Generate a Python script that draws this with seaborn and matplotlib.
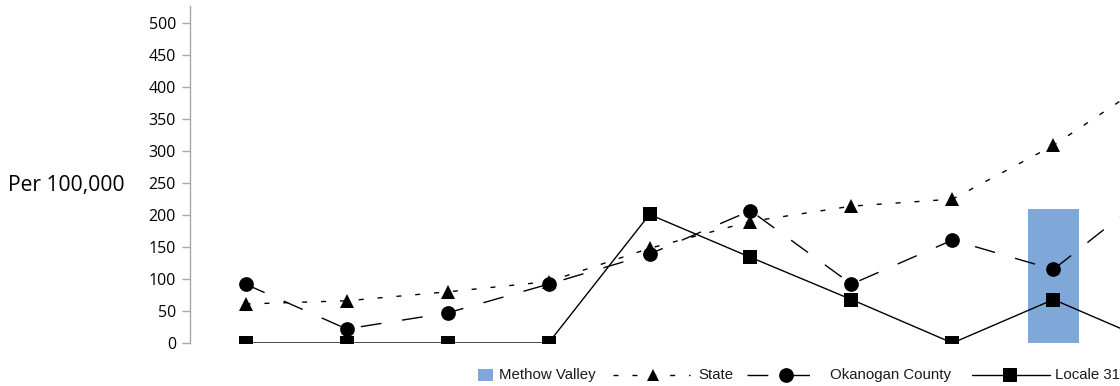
import numpy as np
import pandas as pd
import matplotlib
matplotlib.use("Agg")
import matplotlib.pyplot as plt
import seaborn as sns
from matplotlib.lines import Line2D
from matplotlib.patches import Rectangle

# ---------------- data ----------------
categories = ["1", "2", "3", "4", "5", "6", "7", "8", "9", "10"]
methow_valley = [np.nan, np.nan, np.nan, np.nan, np.nan, np.nan, np.nan, np.nan, 209, np.nan]
state = [61, 66, 80, 96, 148, 190, 214, 225, 309, 414]
okanogan_county = [92, 22, 47, 92, 139, 207, 92, 161, 115, 240]
locale_31 = [0, 0, 0, 0, 201, 134, 68, 0, 68, 0]
y_ticks = [0, 50, 100, 150, 200, 250, 300, 350, 400, 450, 500]
y_label = "Per 100,000"
legend_labels = ["Methow Valley", "State", "Okanogan County", "Locale 31"]

# ---------------- style ----------------
BAR = "#7fa7d7"
AXIS_GREY = "#a6a6a6"
STATE_LS = (0, (3.6, 10))
OKAN_LS = (0, (15, 15))

sns.set_style("white")
plt.rcParams["font.family"] = ["Open Sans", "DejaVu Sans"]

W, H = 1120, 386
fig = plt.figure(figsize=(W / 100, H / 100), dpi=100)
ax = fig.add_axes([190 / W, 43 / H, 1020 / W, 337 / H])

df = pd.DataFrame({
    "category": categories,
    "pos": np.arange(len(categories)),
    "methow": methow_valley,
    "state": state,
    "okanogan": okanogan_county,
    "locale": locale_31,
})

# bar (Methow Valley)
sns.barplot(data=df.dropna(subset=["methow"]), x="category", y="methow",
            order=categories, color=BAR, width=0.5, errorbar=None,
            saturation=1, ax=ax, zorder=1, linewidth=0)

common = dict(color="black", linewidth=1, markeredgecolor="black",
              markeredgewidth=0, ax=ax, zorder=3)
sns.lineplot(data=df, x="pos", y="state", marker="^", markersize=10.5,
             linestyle=STATE_LS, **common)
sns.lineplot(data=df, x="pos", y="okanogan", marker="o", markersize=10.6,
             linestyle=OKAN_LS, **common)
sns.lineplot(data=df, x="pos", y="locale", marker="s", markersize=9.4,
             linestyle="-", **common)

ax.set_xlim(-0.55, 9.55)
ax.set_ylim(0, 527)
ax.set_yticks(y_ticks)
ax.set_xticks([])
ax.set_xlabel("")
ax.set_ylabel("")
for s in ["top", "right", "bottom"]:
    ax.spines[s].set_visible(False)
ax.spines["left"].set_color(AXIS_GREY)
ax.spines["left"].set_linewidth(1)
ax.tick_params(axis="y", left=True, length=6, width=1, color=AXIS_GREY,
               pad=4, labelsize=11.5, labelcolor="black")
ax.grid(False)

fx = lambda px: px / W
fy = lambda py: 1 - py / H

fig.text(fx(125), fy(186), y_label, ha="right", va="center", fontsize=15.2,
         color="black")

# ---------------- legend (manual, bottom) ----------------
LFONT = dict(family=["Liberation Sans", "DejaVu Sans"], fontsize=10.8,
             va="center", ha="left", color="#1a1a1a")
ly = fy(375)
fig.add_artist(Rectangle((fx(478), fy(381)), 15 / W, 12 / H,
                         transform=fig.transFigure, color=BAR, lw=0))
fig.text(fx(499), ly, legend_labels[0], **LFONT)

fig.add_artist(Line2D([fx(613), fx(690)], [ly, ly], transform=fig.transFigure,
                      color="black", lw=1, linestyle=STATE_LS))
fig.add_artist(Line2D([fx(653)], [ly], transform=fig.transFigure,
                      color="black", marker="^", markersize=8, mew=0))
fig.text(fx(698), ly, legend_labels[1], **LFONT)

fig.add_artist(Line2D([fx(747), fx(812)], [ly, ly], transform=fig.transFigure,
                      color="black", lw=1, linestyle=OKAN_LS))
fig.add_artist(Line2D([fx(786)], [ly], transform=fig.transFigure,
                      color="black", marker="o", markersize=10.6, mew=0))
fig.text(fx(830), ly, legend_labels[2], **LFONT)

fig.add_artist(Line2D([fx(972), fx(1050)], [ly, ly], transform=fig.transFigure,
                      color="black", lw=1, linestyle="-"))
fig.add_artist(Line2D([fx(1010)], [ly], transform=fig.transFigure,
                      color="black", marker="s", markersize=9.4, mew=0))
fig.text(fx(1055), ly, legend_labels[3], **LFONT)

fig.savefig("out.png", dpi=100)
